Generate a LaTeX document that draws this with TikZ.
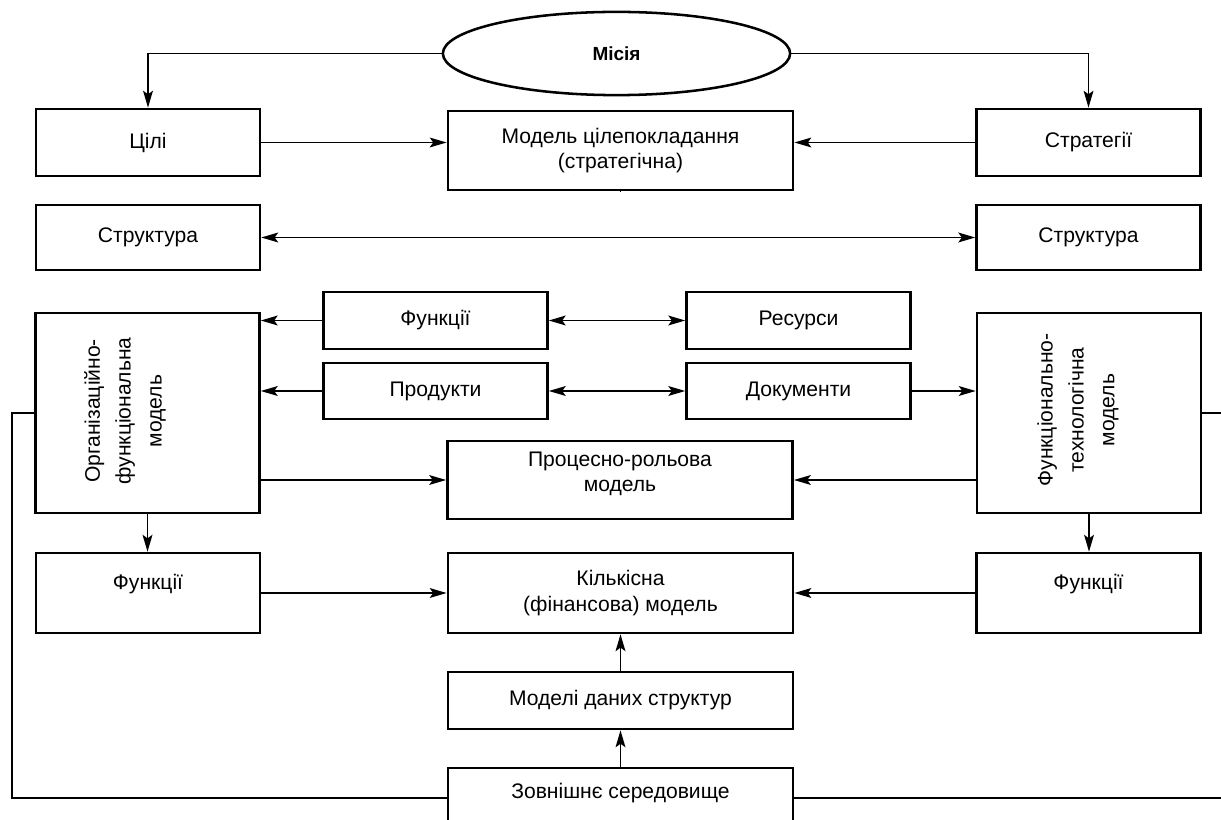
\documentclass[tikz,border=0pt]{standalone}
\usepackage{fontspec}
\setmainfont{Liberation Sans}
\usetikzlibrary{arrows.meta}
\usetikzlibrary{shapes.geometric}

\begin{document}
\begin{tikzpicture}[x=0.025cm, y=-0.025cm,
    box/.style={draw, line width=1.8pt, inner sep=0pt, align=center,
                font=\fontsize{15}{18}\selectfont},
    side/.style={box, minimum width=5.6cm},
    wide/.style={box, minimum width=8.63cm},
    line/.style={line width=1.1pt},
    arr/.style={line, -{Stealth[length=12pt,width=7pt,inset=2.5pt]}},
    arrs/.style={line, {Stealth[length=12pt,width=7pt,inset=2.5pt]}-{Stealth[length=12pt,width=7pt,inset=2.5pt]}},
    vtext/.style={rotate=90, align=center, font=\fontsize{15}{22}\selectfont}]

    % page frame, the picture is cut at the edges
    \clip (0,0) rectangle (1221,820);

    % mission
    \node (misia) [ellipse, draw, line width=1.8pt, inner sep=0pt,
      minimum width=8.68cm, minimum height=2.08cm,
      font=\bfseries\fontsize{13.5}{16}\selectfont] at (616.5,53.5) {Місія};

    % top row
    \node (cili)  [side, minimum height=1.68cm] at (148,142.5) {Цілі};
    \node (model) [wide, minimum height=1.98cm] at (620.5,150.5) {Модель цілепокладання\\(стратегічна)};
    \node (strat) [side, minimum height=1.68cm] at (1088.5,142.5) {Стратегії};

    % structure
    \node (strL) [side, minimum height=1.63cm] at (148,237.5) {Структура};
    \node (strR) [side, minimum height=1.63cm] at (1088.5,237.5) {Структура};

    % middle boxes
    \node (funk) [side, minimum height=1.43cm] at (435.5,320.5) {Функції};
    \node (res)  [side, minimum height=1.43cm] at (798.5,320.5) {Ресурси};
    \node (prod) [side, minimum height=1.4cm] at (435.5,391) {Продукти};
    \node (doc)  [side, minimum height=1.4cm] at (798.5,391) {Документи};

    % tall models left and right
    \node (orgmod)  [side, minimum height=5cm] at (147.5,413) {};
    \node (orgtxt)  [vtext] at (125,411) {Організаційно-\\функціональна\\модель};
    \node (techmod) [side, minimum height=5cm] at (1089,413) {};
    \node (techtxt) [vtext] at (1078,410) {Функціонально-\\технологічна\\модель};

    \node (proc) [wide, minimum height=1.95cm, text depth=0.4cm] at (620,480) {Процесно-рольова\\модель};

    % bottom part
    \node (funkL) [side, minimum height=2cm, text depth=0.55cm] at (148,593) {Функції};
    \node (kilk)  [wide, minimum height=2cm] at (620.5,593) {Кількісна\\(фінансова) модель};
    \node (funkR) [side, minimum height=2cm, text depth=0.55cm] at (1088.5,593) {Функції};
    \node (dani)  [wide, minimum height=1.43cm] at (620.5,700.5) {Моделі даних структур};
    \node (seredov) [wide, minimum height=1.5cm, text depth=0.35cm] at (620.5,798) {Зовнішнє середовище};

    \coordinate (loopL) at (12,0);
    \coordinate (edgeR) at (1230,0);

    % arrows from the mission
    \draw [arr] (misia.west) -| (cili.north);
    \draw [arr] (misia.east) -| (strat.north);

    % into the goal model
    \draw [arr] (cili.east) -- (cili.east -| model.west);
    \draw [arr] (strat.west) -- (strat.west -| model.east);
    \draw [arrs] (strL) -- (strR);
    \draw [line] (model.south) -- (model.south -| proc.north);

    % middle connections
    \draw [arr] (funk.west) -- (funk.west -| orgmod.east);
    \draw [arr] (prod.west) -- (prod.west -| orgmod.east);
    \draw [arrs] (funk) -- (res);
    \draw [arrs] (prod) -- (doc);
    \draw [arr] (doc.east) -- (doc.east -| techmod.west);
    \draw [arr] (orgmod.east |- proc.west) -- (proc.west);
    \draw [arr] (techmod.west |- proc.east) -- (proc.east);

    % lower connections
    \draw [arr] (orgmod.south) -- (orgmod.south |- funkL.north);
    \draw [arr] (techmod.south) -- (techmod.south |- funkR.north);
    \draw [arr] (funkL.east) -- (funkL.east -| kilk.west);
    \draw [arr] (funkR.west) -- (funkR.west -| kilk.east);
    \draw [arr] (dani.north) -- (dani.north |- kilk.south);
    \draw [arr] (seredov.north) -- (seredov.north |- dani.south);

    % environment loop
    \draw [line] (orgmod.west) -- (loopL |- orgmod.west) |- (seredov.west);
    \draw [line] (techmod.east) -- (edgeR |- techmod.east);
    \draw [line] (seredov.east) -- (edgeR |- seredov.east);

\end{tikzpicture}
\end{document}
